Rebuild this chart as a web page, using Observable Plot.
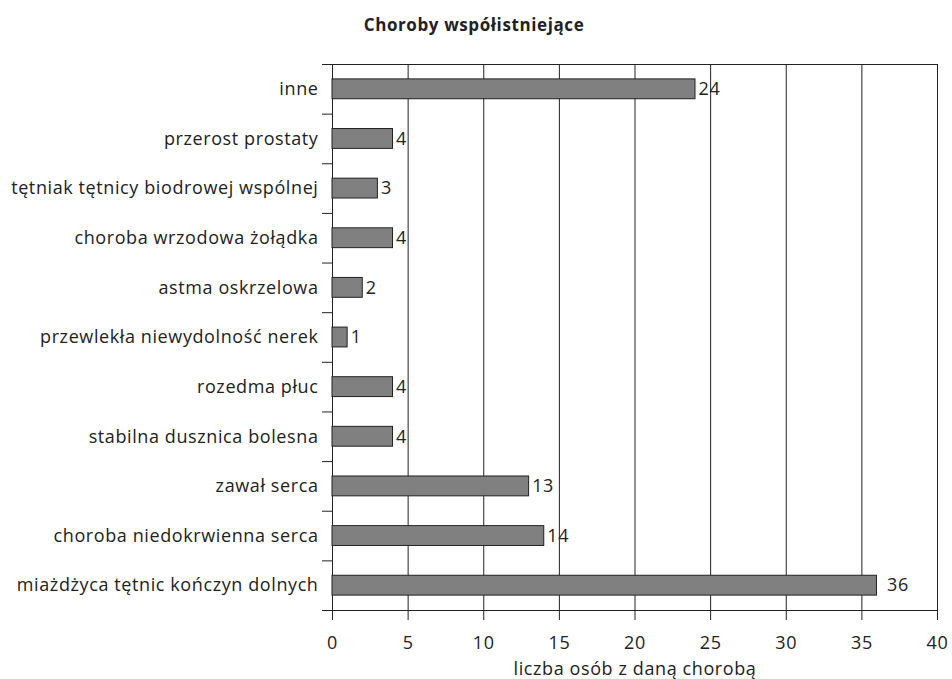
<!DOCTYPE html>
<html><head><meta charset="utf-8">
<script src="https://cdn.jsdelivr.net/npm/d3@7"></script>
<script src="https://cdn.jsdelivr.net/npm/@observablehq/plot@0.6"></script>
<style>
body{margin:0;background:#fff;font-family:"Open Sans",sans-serif;}
#wrap{position:relative;width:952px;height:679px;}
#title{position:absolute;left:0;top:15px;width:948px;text-align:center;font-size:17px;line-height:20px;font-weight:700;letter-spacing:0.6px;color:#222;z-index:2;}
#chart{position:absolute;left:0;top:0;}
</style></head><body>
<div id="wrap"><div id="title">Choroby współistniejące</div><div id="chart"></div></div>
<script>
// categories from top to bottom as shown
const categories = [
  "inne",
  "przerost prostaty",
  "tętniak tętnicy biodrowej wspólnej",
  "choroba wrzodowa żołądka",
  "astma oskrzelowa",
  "przewlekła niewydolność nerek",
  "rozedma płuc",
  "stabilna dusznica bolesna",
  "zawał serca",
  "choroba niedokrwienna serca",
  "miażdżyca tętnic kończyn dolnych"
];
const values = [24, 4, 3, 4, 2, 1, 4, 4, 13, 14, 36];
const xTicks = [0, 5, 10, 15, 20, 25, 30, 35, 40];
const xLabel = "liczba osób z daną chorobą";

const n = categories.length;
const rows = categories.map((c, i) => ({name: c, value: values[i], pos: n - 1 - i}));
const rowCenters = d3.range(n);
const rowBounds = d3.range(n + 1).map(i => i - 0.5);
const ink = "#222";

const chart = Plot.plot({
  width: 952,
  height: 679,
  marginLeft: 332,
  marginRight: 15,
  marginTop: 64,
  marginBottom: 69,
  style: {fontFamily: "'Open Sans', sans-serif", fontSize: "18px", letterSpacing: "0.6px", color: ink, background: "transparent"},
  x: {type: "linear", domain: [0, 40]},
  y: {type: "linear", domain: [-0.5, n - 0.5]},
  marks: [
    Plot.gridX(xTicks, {stroke: ink, strokeOpacity: 1, strokeWidth: 1}),
    Plot.ruleY([rowBounds[0], rowBounds[n]], {stroke: ink, strokeWidth: 1}),
    Plot.rect(rows, {x1: 0, x2: "value", y1: d => d.pos - 0.2, y2: d => d.pos + 0.2, fill: "#808080", stroke: ink, strokeWidth: 1}),
    Plot.text(rows, {filter: d => d.value < 30, x: "value", y: "pos", text: d => String(d.value), textAnchor: "start", dx: 3, fontSize: 18, fill: ink}),
    Plot.text(rows, {filter: d => d.value >= 30, x: "value", y: "pos", text: d => String(d.value), textAnchor: "start", dx: 10, fontSize: 18, fill: ink}),
    Plot.axisY(rowCenters, {tickSize: 0, tickPadding: 14, tickFormat: i => categories[n - 1 - i], fontSize: 18, label: null, stroke: ink, fill: ink}),
    Plot.axisY(rowBounds, {tickSize: 10, tickFormat: () => "", label: null, stroke: ink}),
    Plot.axisX(xTicks, {tickSize: 10, tickPadding: 16, fontSize: 18, stroke: ink, fill: ink, label: xLabel, labelAnchor: "center", labelArrow: "none", labelOffset: 64})
  ]
});
document.getElementById("chart").appendChild(chart);
</script>
</body></html>
